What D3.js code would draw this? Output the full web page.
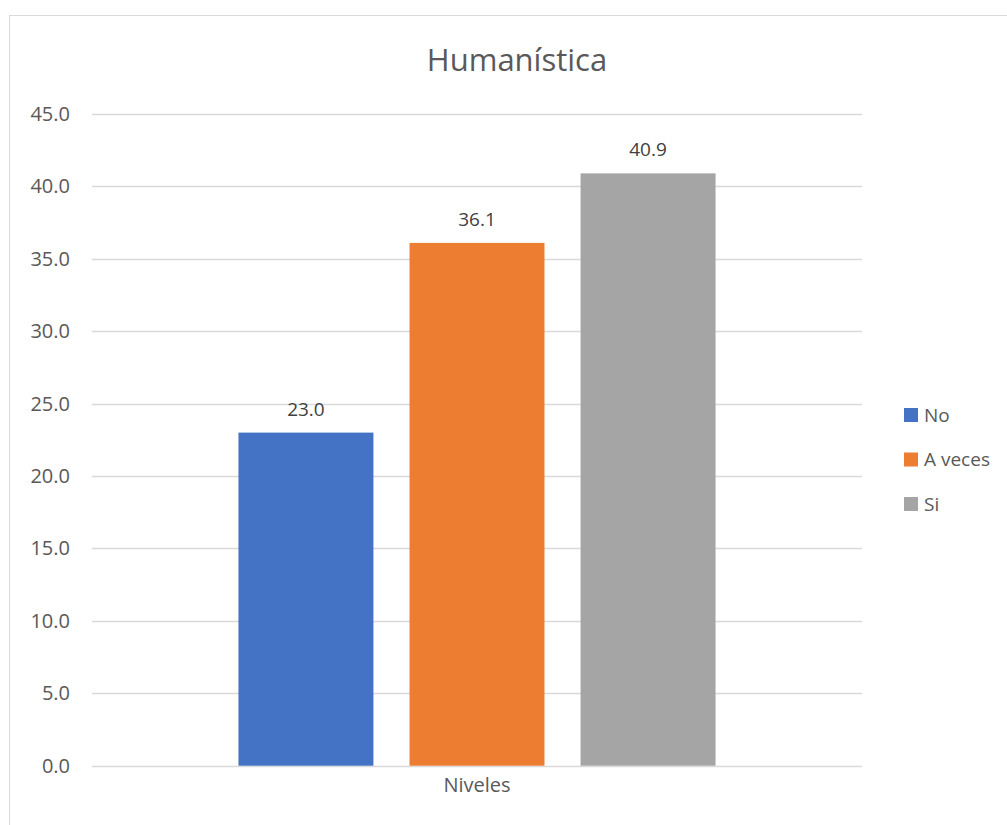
<!DOCTYPE html>
<html lang="es">
<head>
  <meta charset="UTF-8" />
  <title>Humanística</title>
  <style>
    body {
      margin: 0;
      background: #fff;
      font-family: "Open Sans", "Liberation Sans", sans-serif;
    }
  </style>
  <script src="https://d3js.org/d3.v7.min.js"></script>
</head>
<body>
  <div id="chart"></div>
  <script>
    // data
    const categories = ["Niveles"];
    const seriesNames = ["No", "A veces", "Si"];
    const seriesValues = [23.0, 36.1, 40.9];
    const seriesColors = ["#4472C4", "#ED7D31", "#A5A5A5"];
    const yTicks = [0, 5, 10, 15, 20, 25, 30, 35, 40, 45];

    const width = 1007;
    const height = 825;
    const margin = { top: 114, right: 145, bottom: 59, left: 92 };

    const svg = d3.select("#chart")
      .append("svg")
      .attr("width", width)
      .attr("height", height);

    // chart border
    svg.append("rect")
      .attr("x", 9.5)
      .attr("y", 15.5)
      .attr("width", 1010)
      .attr("height", 830)
      .attr("fill", "#fff")
      .attr("stroke", "#d9d9d9")
      .attr("stroke-width", 1);

    const y = d3.scaleLinear()
      .domain([0, 45])
      .range([height - margin.bottom - 0.3, margin.top]);

    const x0 = d3.scaleBand()
      .domain(categories)
      .range([margin.left, width - margin.right])
      .paddingInner(0)
      .paddingOuter(0.307);

    const x1 = d3.scaleBand()
      .domain(seriesNames)
      .range([0, x0.bandwidth()])
      .paddingInner(0.211)
      .paddingOuter(0);

    // gridlines
    svg.append("g")
      .selectAll("line")
      .data(yTicks)
      .join("line")
      .attr("x1", margin.left)
      .attr("x2", width - margin.right)
      .attr("y1", d => Math.round(y(d)) + 0.5)
      .attr("y2", d => Math.round(y(d)) + 0.5)
      .attr("stroke", "#d9d9d9")
      .attr("stroke-width", 1.3);

    // y axis labels
    const yAxis = d3.axisLeft(y)
      .tickValues(yTicks)
      .tickFormat(d3.format(".1f"))
      .tickSize(0)
      .tickPadding(22);
    const ya = svg.append("g")
      .attr("transform", `translate(${margin.left},0)`)
      .call(yAxis);
    ya.select(".domain").remove();
    ya.selectAll("text")
      .attr("fill", "#595959")
      .style("font-size", "20px")
      .style("font-family", "'Open Sans', 'Liberation Sans', sans-serif");

    // bars
    const groups = svg.append("g")
      .selectAll("g")
      .data(categories)
      .join("g")
      .attr("transform", d => `translate(${x0(d)},0)`);

    const barData = seriesNames.map((name, i) => ({ name, value: seriesValues[i], color: seriesColors[i] }));

    groups.selectAll("rect")
      .data(barData)
      .join("rect")
      .attr("x", d => x1(d.name))
      .attr("y", d => y(d.value))
      .attr("width", x1.bandwidth())
      .attr("height", d => y(0) - y(d.value))
      .attr("fill", d => d.color);

    // value labels
    groups.selectAll("text")
      .data(barData)
      .join("text")
      .attr("x", d => x1(d.name) + x1.bandwidth() / 2)
      .attr("y", d => y(d.value) - 17)
      .attr("text-anchor", "middle")
      .attr("fill", "#404040")
      .style("font-size", "19px")
      .text(d => d3.format(".1f")(d.value));

    // x axis category label
    const xAxis = d3.axisBottom(x0).tickSize(0).tickPadding(12);
    const xa = svg.append("g")
      .attr("transform", `translate(0,${y(0)})`)
      .call(xAxis);
    xa.select(".domain").remove();
    xa.selectAll("text")
      .attr("fill", "#595959")
      .style("font-size", "20px")
      .style("font-family", "'Open Sans', 'Liberation Sans', sans-serif");

    // title
    svg.append("text")
      .attr("x", 517)
      .attr("y", 71)
      .attr("text-anchor", "middle")
      .attr("fill", "#595959")
      .style("font-size", "31px")
      .text("Humanística");

    // legend
    const legend = svg.append("g")
      .attr("transform", "translate(904,408)");
    const items = legend.selectAll("g")
      .data(barData)
      .join("g")
      .attr("transform", (d, i) => `translate(0,${i * 44.5})`);
    items.append("rect")
      .attr("width", 14)
      .attr("height", 14)
      .attr("fill", d => d.color);
    items.append("text")
      .attr("x", 20)
      .attr("y", 7)
      .attr("dy", "0.35em")
      .attr("fill", "#595959")
      .style("font-size", "19px")
      .text(d => d.name);
  </script>
</body>
</html>
